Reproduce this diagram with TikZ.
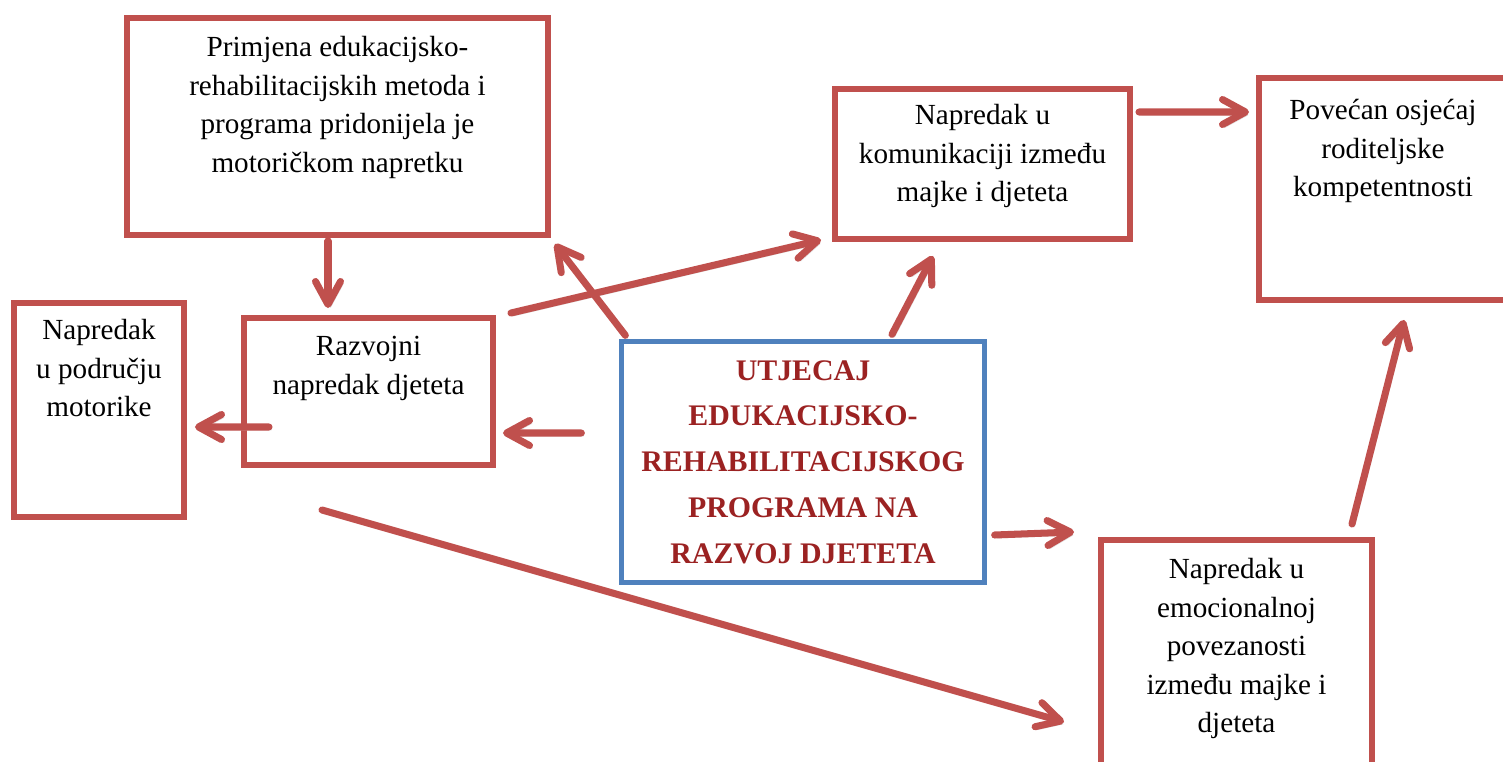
\documentclass[tikz,border=0pt]{standalone}
\usepackage{fontspec}
\setmainfont{Liberation Serif}
\usetikzlibrary{arrows.meta,positioning,calc}
\definecolor{boxred}{RGB}{192,80,77}
\definecolor{boxblue}{RGB}{79,129,189}
\definecolor{titlered}{RGB}{155,34,34}

\begin{document}
\begin{tikzpicture}[x=0.2mm, y=-0.2mm,
    redbox/.style={draw=boxred, line width=3.4pt, inner sep=0pt},
    bluebox/.style={draw=boxblue, line width=3pt, inner sep=0pt},
    txt/.style={inner sep=0pt, align=center, font=\fontsize{16.6}{21.9}\selectfont},
    link/.style={draw=boxred, line width=4pt, line cap=round,
      -{Straight Barb[round, length=4.6mm, width=5mm]},
      preaction={draw=black!12, transform canvas={shift={(0.5mm,-0.6mm)}}}}]
  \useasboundingbox (0,0) rectangle (1503,762);
  % boxes
  \node[redbox, minimum width=84.2mm, minimum height=43.4mm] (primjena) at (337.5,126.5) {};
  \node[redbox, minimum width=49.8mm, minimum height=29.4mm] (razvoj) at (368.5,391.5) {};
  \node[redbox, minimum width=34mm, minimum height=42.8mm] (motorika) at (99,410) {};
  \node[redbox, minimum width=59mm, minimum height=30mm] (komunikacija) at (982.5,164) {};
  \node[redbox, minimum width=49.6mm, minimum height=44.4mm] (kompetencija) at (1383,189) {};
  \node[redbox, minimum width=54.2mm, minimum height=52mm] (emocije) at (1236.5,670) {};
  \node[bluebox, minimum width=72.6mm, minimum height=48.2mm, align=center, text=titlered,
    font=\bfseries\fontsize{17}{26}\selectfont] (utjecaj) at (803,462)
    {UTJECAJ\\EDUKACIJSKO-\\REHABILITACIJSKOG\\PROGRAMA NA\\RAZVOJ DJETETA};
  % texts
  \node[txt, below=4.2mm of primjena.north] (primjenatxt)
    {Primjena edukacijsko-\\rehabilitacijskih metoda i\\programa pridonijela je\\motoričkom napretku};
  \node[txt, below=4.2mm of razvoj.north] (razvojtxt) {Razvojni\\napredak djeteta};
  \node[txt, below=3.8mm of motorika.north] (motorikatxt) {Napredak\\u području\\motorike};
  \node[txt, below=3.6mm of komunikacija.north] (komunikacijatxt)
    {Napredak u\\komunikaciji između\\majke i djeteta};
  \node[txt, below=4.8mm of kompetencija.north] (kompetencijatxt)
    {Povećan osjećaj\\roditeljske\\kompetentnosti};
  \node[txt, below=4.2mm of emocije.north] (emocijetxt)
    {Napredak u\\emocionalnoj\\povezanosti\\između majke i\\djeteta};
  % arrows
  \draw[link] ($(primjena.south)+(-9.5,3)$) -- ($(razvoj.north)+(-40.5,-7)$);
  \draw[link] ($(razvoj.west)+(28,35.5)$) -- ($(motorika.east)+(8,17)$);
  \draw[link] ($(utjecaj.west)+(-37.5,-29)$) -- ($(razvoj.east)+(7,41.5)$);
  \draw[link] ($(razvoj.north east)+(15,-2)$) -- ($(komunikacija.south west)+(-11,-2)$);
  \draw[link] ($(utjecaj.north west)+(6.5,-3.5)$) -- ($(primjena.south east)+(4,6)$);
  \draw[link] ($(utjecaj.north)+(89,-4.5)$) -- ($(komunikacija.south)+(-49.5,14)$);
  \draw[link] ($(utjecaj.east)+(7.5,73)$) -- ($(emocije.north west)+(-24,-5)$);
  \draw[link] ($(komunikacija.north east)+(6,26)$) -- ($(kompetencija.north west)+(-7,37)$);
  \draw[link] ($(emocije.north)+(115.5,-13)$) -- ($(kompetencija.south)+(21,17)$);
  \draw[link] ($(razvoj.south)+(-46.5,42)$) -- ($(emocije.west)+(-34,52)$);
\end{tikzpicture}
\end{document}
